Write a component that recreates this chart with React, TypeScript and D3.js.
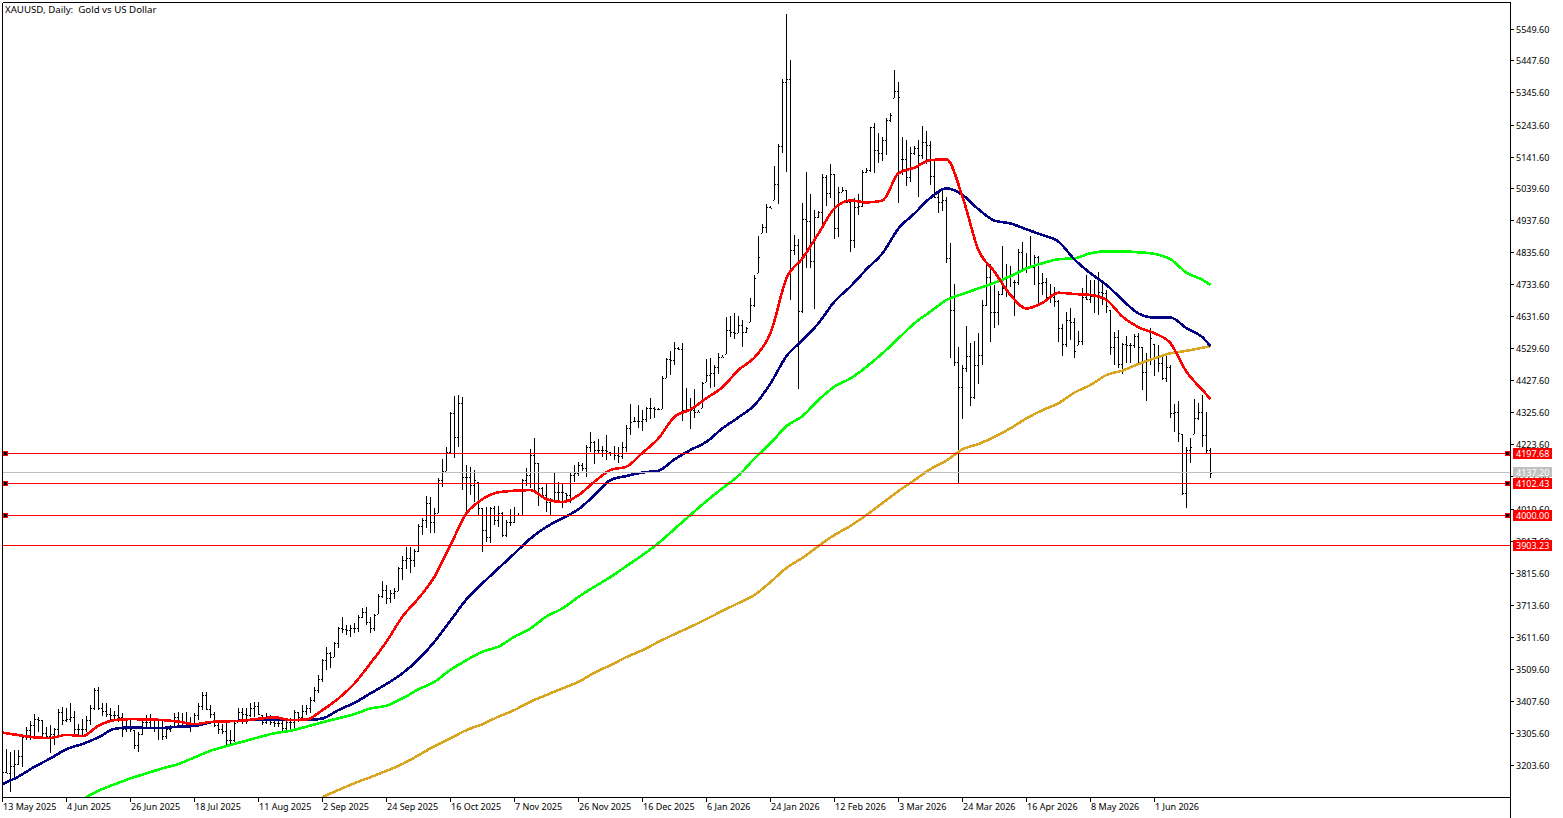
import React from "react";
import * as d3 from "d3";

const title = "XAUUSD, Daily:  Gold vs US Dollar";
const dateLabels = ["13 May 2025","4 Jun 2025","26 Jun 2025","18 Jul 2025","11 Aug 2025","2 Sep 2025","24 Sep 2025","16 Oct 2025","7 Nov 2025","26 Nov 2025","16 Dec 2025","6 Jan 2026","24 Jan 2026","12 Feb 2026","3 Mar 2026","24 Mar 2026","16 Apr 2026","8 May 2026","1 Jun 2026"];
const priceTicks = [5549.6,5447.6,5345.6,5243.6,5141.6,5039.6,4937.6,4835.6,4733.6,4631.6,4529.6,4427.6,4325.6,4223.6,4121.6,4019.6,3917.6,3815.6,3713.6,3611.6,3509.6,3407.6,3305.6,3203.6];
const levels = [4197.68,4102.43,4000.0,3903.23];
const anchoredLevels = [4197.68,4102.43,4000.0];
const bid = 4137.2;

const high = [3262,3257,3249,3254,3254,3299,3329,3347,3368,3359,3350,3329,3334,3324,3384,3392,3387,3406,3379,3339,3352,3363,3398,3451,3454,3406,3403,3387,3379,3398,3374,3350,3350,3318,3313,3355,3366,3369,3352,3350,3350,3324,3334,3371,3377,3371,3377,3361,3371,3403,3438,3440,3398,3377,3350,3339,3345,3318,3345,3387,3387,3387,3403,3408,3408,3366,3371,3366,3361,3356,3361,3356,3356,3382,3377,3398,3398,3424,3456,3493,
3544,3584,3568,3600,3648,3678,3653,3653,3660,3685,3706,3709,3678,3688,3751,3793,3781,3765,3770,3837,3874,3901,3901,3894,3975,3993,4064,4060,4025,4121,4182,4221,4333,4384,4386,4381,4163,4156,4147,4110,4025,4030,4030,4032,4032,4014,3988,4023,4030,4011,4117,4152,4213,4248,4170,4092,4105,4057,4136,4110,4102,4073,4136,4163,4174,4170,4227,4267,4241,4245,
4224,4259,4206,4224,4221,4237,4290,4357,4317,4354,4338,4349,4376,4347,4344,4447,4503,4527,4554,4538,4551,4407,4376,4405,4338,4429,4500,4503,4482,4521,4514,4634,4638,4646,4638,4625,4604,4694,4769,4893,4931,4995,4989,5116,5186,5392,5601,5454,4896,4885,4997,5096,5027,4976,4974,5091,5087,5122,5091,5050,5048,5040,5008,5013,5027,5103,5109,5241,5252,5220,5207,5268,5284,5422,5385,5210,5199,5178,5180,5199,5244,5229,5197,5135,5040,5042,5018,
4870,4740,4538,4482,4606,4551,4559,4583,4689,4800,4804,4737,4719,4861,4804,4797,4753,4850,4875,4840,4893,4832,4829,4774,4758,4740,4731,4689,4612,4650,4662,4631,4590,4726,4769,4753,4753,4777,4747,4721,4657,4588,4593,4551,4574,4551,4581,4583,4538,4519,4599,4549,4546,4508,4510,4482,4357,4368,4262,4221,4248,4372,4360,4386,4331,4216];
const low = [3172,3180,3122,3159,3206,3201,3286,3286,3297,3313,3292,3292,3244,3270,3302,3334,3345,3345,3302,3302,3302,3313,3334,3382,3382,3363,3360,3345,3350,3345,3297,3313,3313,3257,3249,3302,3329,3329,3313,3286,3286,3289,3313,3329,3334,3329,3334,3313,3329,3350,3382,3382,3356,3329,3307,3307,3270,3270,3281,3345,3339,3339,3361,3361,3366,3334,3339,3334,3329,3329,3313,3313,3318,3323,3345,3350,3366,3371,3408,3435,
3472,3510,3515,3552,3579,3626,3621,3616,3626,3632,3674,3653,3629,3635,3688,3738,3720,3724,3735,3762,3796,3830,3820,3839,3887,3940,3961,3947,3947,4009,4092,4145,4202,4186,4221,4083,4004,4067,4046,4004,3887,3919,3915,3972,3966,3935,3932,3969,3977,4000,4000,4096,4089,4083,4033,4057,4014,4000,4046,4043,4025,4041,4043,4110,4128,4145,4124,4206,4165,4198,
4190,4179,4192,4179,4170,4181,4206,4259,4301,4280,4272,4301,4309,4312,4338,4340,4439,4450,4482,4530,4304,4328,4277,4312,4331,4344,4429,4407,4411,4453,4506,4517,4572,4564,4583,4538,4583,4620,4668,4774,4901,4901,4981,5008,4995,5159,5098,4689,4832,4404,4646,4790,4790,4659,4949,4931,4989,5013,4882,4889,5034,4997,4843,4854,4960,4984,5093,5098,5095,5125,5133,5151,5257,5332,4999,5087,5052,5066,5151,5016,5137,5122,5056,5013,4967,4974,4806,
4503,4479,4101,4309,4461,4351,4375,4421,4482,4670,4556,4599,4609,4705,4700,4731,4639,4737,4785,4774,4790,4737,4670,4705,4684,4680,4668,4556,4510,4540,4561,4503,4545,4545,4689,4680,4646,4641,4673,4646,4514,4482,4471,4453,4487,4487,4535,4487,4402,4368,4482,4447,4461,4434,4429,4314,4269,4237,4067,4025,4170,4262,4306,4219,4202,4123];
const close = [3185,3182,3205,3210,3235,3295,3318,3335,3355,3350,3310,3300,3305,3320,3375,3350,3355,3360,3320,3320,3322,3350,3390,3445,3390,3380,3370,3365,3365,3360,3320,3325,3320,3270,3305,3345,3345,3355,3350,3325,3300,3320,3330,3360,3345,3345,3340,3335,3365,3395,3430,3385,3370,3335,3320,3315,3285,3285,3340,3375,3370,3365,3390,3395,3370,3345,3350,3345,3340,3340,3325,3345,3345,3375,3360,3380,3390,3415,3445,3480,
3540,3565,3550,3595,3642,3639,3637,3642,3642,3680,3695,3664,3642,3685,3745,3765,3738,3754,3762,3834,3860,3866,3860,3890,3969,3988,4043,3982,4009,4115,4145,4206,4330,4253,4360,4126,4126,4099,4115,4025,3956,3935,4025,3988,4009,3940,3982,3982,4004,4004,4115,4131,4195,4168,4089,4067,4046,4051,4078,4078,4078,4067,4131,4136,4163,4152,4221,4237,4211,4211,
4210,4209,4200,4195,4192,4221,4280,4301,4304,4304,4309,4344,4344,4340,4342,4439,4500,4498,4535,4533,4338,4338,4338,4333,4333,4423,4450,4457,4476,4508,4508,4593,4588,4583,4609,4588,4599,4673,4758,4827,4923,4986,4983,5059,5181,5385,5395,4848,4864,4655,4946,4942,4813,4955,4970,5082,5031,5091,4917,5034,5040,5000,4880,4986,4989,5098,5103,5239,5167,5156,5199,5263,5279,5356,5335,5137,5082,5156,5172,5151,5194,5183,5084,5018,5002,5008,4822,
4657,4492,4413,4471,4510,4381,4482,4514,4673,4761,4652,4652,4708,4726,4765,4769,4747,4843,4790,4795,4795,4825,4742,4747,4700,4700,4687,4599,4549,4625,4620,4526,4559,4697,4691,4702,4705,4716,4712,4670,4540,4570,4485,4549,4546,4546,4574,4538,4460,4498,4567,4503,4489,4439,4476,4328,4333,4264,4073,4211,4221,4312,4333,4259,4211,4137];
const open = [3170,3185,3182,3205,3210,3235,3295,3318,3335,3355,3350,3310,3300,3305,3320,3375,3350,3355,3360,3320,3320,3322,3350,3390,3445,3390,3380,3370,3365,3365,3360,3320,3325,3320,3270,3305,3345,3345,3355,3350,3325,3300,3320,3330,3360,3345,3345,3340,3335,3365,3395,3430,3385,3370,3335,3320,3315,3285,3285,3340,3375,3370,3365,3390,3395,3370,3345,3350,3345,3340,3340,3325,3345,3345,3375,3360,3380,3390,3415,3445,
3480,3540,3565,3550,3595,3642,3639,3637,3642,3642,3680,3695,3664,3642,3685,3745,3765,3738,3754,3762,3834,3860,3866,3860,3890,3969,3988,4043,3982,4009,4115,4145,4206,4330,4253,4360,4126,4126,4099,4115,4025,3956,3935,4025,3988,4009,3940,3982,3982,4004,4004,4115,4131,4195,4168,4089,4067,4046,4051,4078,4078,4078,4067,4131,4136,4163,4152,4221,4237,4211,
4211,4210,4206,4200,4195,4192,4221,4280,4304,4304,4304,4309,4344,4344,4340,4342,4439,4500,4498,4535,4533,4338,4338,4338,4333,4344,4423,4450,4457,4476,4508,4517,4593,4588,4583,4609,4588,4620,4673,4774,4901,4923,4986,5008,5059,5181,5385,5395,4848,4864,4655,4946,4942,4813,4955,4970,5082,5031,5091,4917,5034,5040,5000,4880,4986,4989,5098,5103,5239,5167,5156,5199,5263,5332,5356,5137,5137,5082,5156,5172,5151,5194,5183,5084,5018,5002,5008,
4822,4657,4492,4413,4471,4510,4381,4482,4514,4673,4761,4652,4652,4708,4726,4765,4747,4747,4843,4790,4795,4795,4825,4742,4747,4700,4700,4687,4599,4549,4625,4620,4545,4559,4697,4691,4702,4705,4716,4712,4657,4540,4570,4485,4549,4546,4546,4574,4538,4460,4498,4549,4503,4489,4439,4476,4328,4333,4262,4073,4211,4221,4312,4333,4259,4211];

const redMA = [3310,3302,3295,3293,3303,3299,3332,3350,3353,3352,3350,3345,3337,3344,3346,3348,3354,3359,3350,3352,3382,3419,3467,3531,3600,3680,3738,3807,3908,4009,4054,4076,4081,4083,4054,4045,4067,4110,4147,4158,4202,4248,4317,4340,4376,4411,4466,4506,4583,4758,4822,4901,4981,5006,5000,5006,5093,5111,5135,5137,5018,4848,4779,4705,4662,4680,4712,4708,4705,4689,4636,4602,4583,4551,4460,4402,4373];
const navyMA = [3146,3170,3201,3228,3257,3274,3295,3322,3327,3325,3325,3329,3331,3343,3347,3348,3352,3352,3350,3350,3355,3382,3405,3435,3465,3499,3544,3600,3667,3735,3786,3834,3881,3929,3966,3993,4022,4067,4115,4128,4139,4145,4181,4211,4237,4280,4315,4354,4423,4510,4561,4615,4684,4732,4787,4838,4917,4965,5015,5045,5024,4978,4942,4933,4914,4896,4875,4818,4774,4737,4689,4646,4633,4633,4599,4570,4542];
const limeMA = [3097,3125,3145,3164,3180,3196,3210,3231,3252,3267,3281,3295,3308,3316,3329,3343,3356,3369,3387,3396,3419,3448,3472,3510,3541,3568,3584,3616,3642,3680,3706,3743,3775,3806,3841,3876,3914,3959,4004,4048,4089,4129,4184,4232,4287,4319,4370,4413,4439,4476,4519,4567,4615,4652,4689,4708,4726,4744,4765,4790,4806,4819,4822,4838,4844,4844,4841,4836,4819,4776,4753,4737];
const goldMA = [3105,3127,3149,3168,3188,3210,3238,3267,3292,3318,3337,3361,3382,3409,3430,3451,3472,3501,3525,3551,3573,3599,3624,3647,3672,3698,3723,3749,3790,3835,3867,3905,3940,3969,4004,4042,4080,4115,4150,4177,4213,4230,4253,4280,4312,4338,4360,4394,4418,4450,4464,4485,4503,4519,4527,4537,4542];

const W = 1563, H = 818;
const left = 2, right = 1510, top = 2, bottom = 797;
const FONT = "'Noto Sans', sans-serif";

const xScale = d3.scaleLinear().domain([0, 16]).range([2, 66]);
const yScale = d3.scaleLinear().domain([3203.6, 5549.6]).range([766, 30]);
const px = (v: number) => Math.round(v);
const axisY = (v: number) => Math.floor(yScale(v) - 1) + 0.5;

const lastIndex = high.length - 1;
function maIndices(start: number, n: number) {
  return d3.range(n).map((k) => (k === n - 1 ? lastIndex : start + 4 * k));
}
const maLine = d3
  .line<[number, number]>()
  .x((d) => xScale(d[0]) + 0.5)
  .y((d) => yScale(d[1]))
  .curve(d3.curveMonotoneX);

const mas = [
  { color: "#daa520", values: goldMA, start: 80 },
  { color: "#00ff00", values: limeMA, start: 20 },
  { color: "#000080", values: navyMA, start: 0 },
  { color: "#ff0000", values: redMA, start: 0 },
];

const barsPath = high
  .map((h, i) => {
    const x = xScale(i);
    const c = x + 0.5;
    const o = Math.min(h, Math.max(low[i], open[i]));
    const cl = Math.min(h, Math.max(low[i], close[i]));
    return `M${c} ${px(yScale(h))}V${px(yScale(low[i]))}M${x - 1} ${px(yScale(o)) + 0.5}H${x}M${x + 1} ${px(yScale(cl)) + 0.5}H${x + 2}`;
  })
  .join("");

export default function App() {
  return (
    <svg
      width={W}
      height={H}
      viewBox={`0 0 ${W} ${H}`}
      style={{ position: "absolute", left: 0, top: 0, display: "block", background: "#fff" }}
    >
      <defs>
        <clipPath id="plot">
          <rect x={left} y={top} width={right - left} height={bottom - top} />
        </clipPath>
      </defs>
      <g clipPath="url(#plot)">
        <path d={barsPath} fill="none" stroke="#000" strokeWidth={1} shapeRendering="crispEdges" />
        {mas.map((m) => {
          const idx = maIndices(m.start, m.values.length);
          const pts = m.values.map((v, k) => [idx[k], v] as [number, number]);
          return (
            <path
              key={m.color}
              d={maLine(pts) || ""}
              fill="none"
              stroke={m.color}
              strokeWidth={2.6}
              strokeLinejoin="round"
              shapeRendering="crispEdges"
            />
          );
        })}
        {levels.map((v) => (
          <line key={v} x1={left} x2={right} y1={axisY(v)} y2={axisY(v)} stroke="#ff0000" strokeWidth={1} shapeRendering="crispEdges" />
        ))}
        <line x1={left} x2={right} y1={axisY(bid)} y2={axisY(bid)} stroke="#c0c0c0" strokeWidth={1} shapeRendering="crispEdges" />
      </g>

      <g shapeRendering="crispEdges" fill="none" stroke="#000" strokeWidth={1}>
        <path d={`M${left + 0.5} ${top + 0.5}H${right + 0.5}V${H}M${left + 0.5} ${top + 0.5}V${bottom + 0.5}H${right + 0.5}`} />
        {priceTicks.map((v) => (
          <path key={v} d={`M${right} ${axisY(v)}H${right + 4}`} />
        ))}
        {dateLabels.map((d, k) => (
          <path key={d} d={`M${xScale(16 * k) + 0.5} ${bottom}V${bottom + 5}`} />
        ))}
      </g>

      <g fontFamily={FONT} fontSize={9} fill="#000">
        <text x={5} y={12.5} fontSize={9.7} style={{ whiteSpace: "pre" }}>{title}</text>
        {priceTicks.map((v) => (
          <text key={v} x={1516} y={axisY(v) + 3.5}>{v.toFixed(2)}</text>
        ))}
        {dateLabels.map((d, k) => (
          <text key={d} x={xScale(16 * k) + 1} y={810}>{d}</text>
        ))}
      </g>

      {anchoredLevels.map((v) => (
        <g key={v} shapeRendering="crispEdges">
          <rect x={3.5} y={axisY(v) - 2} width={4} height={4} fill="#000" stroke="#ff0000" />
          <rect x={1505.5} y={axisY(v) - 2} width={4} height={4} fill="#000" stroke="#ff0000" />
        </g>
      ))}

      {[...levels, bid].map((v) => {
        const isBid = v === bid;
        const y = axisY(v);
        return (
          <g key={v}>
            <rect x={1513} y={y - 5.5} width={39} height={isBid ? 10 : 11} fill={isBid ? "#c0c0c0" : "#ff0000"} shapeRendering="crispEdges" />
            <text x={1516} y={y + 3.5} fill="#fff" fontFamily={FONT} fontSize={9}>{v.toFixed(2)}</text>
          </g>
        );
      })}
    </svg>
  );
}
